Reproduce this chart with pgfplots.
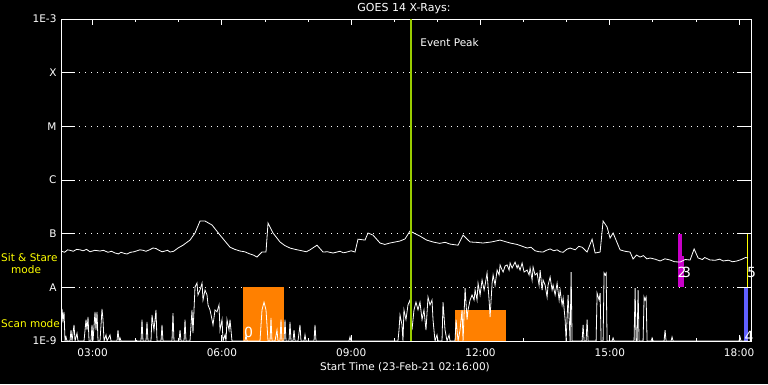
\documentclass[border=0pt]{standalone}
\usepackage{pgfplots}
\pgfplotsset{compat=1.18}
\usepackage{fontspec}
\setmainfont{DejaVu Sans}
\definecolor{evt}{RGB}{153,204,0}
\definecolor{scanorange}{RGB}{255,128,0}
\definecolor{ssmag}{RGB}{200,0,200}
\definecolor{scanblue}{RGB}{96,96,255}
\definecolor{lblyellow}{RGB}{255,255,0}
\begin{document}
\begin{tikzpicture}[font=\fontsize{10.5}{12}\selectfont]
\fill[black] (0pt,0pt) rectangle (768pt,384pt);
\begin{axis}[
  at={(61pt,43pt)}, anchor=south west,
  width=690pt, height=322pt, scale only axis,
  xmin=2.2667, xmax=18.276,
  ymode=log, ymin=1e-9, ymax=1e-3,
  clip mode=individual,
  axis background/.style={fill=black},
  axis line style={white, line width=1pt},
  xtick={3,6,9,12,15,18},
  xticklabels={03:00,06:00,09:00,12:00,15:00,18:00},
  minor xtick={4,5,7,8,10,11,13,14,16,17},
  tick align=inside,
  xtick pos=both,
  major tick length=6pt, minor tick length=3pt,
  xtick style={white, line width=1pt},
  ytick={1e-9,1e-8,1e-7,1e-6,1e-5,1e-4,1e-3},
  yticklabels={1E-9,A,B,C,M,X,1E-3},
  ytick style={draw=none},
  ymajorgrids,
  grid style={white, line width=1pt, dash pattern=on 1pt off 5pt},
  ticklabel style={white, font=\fontsize{10.5}{12}\selectfont},
  xticklabel style={yshift=-4pt},
  yticklabel style={xshift=-1pt},
  /pgf/number format/assume math mode=true,
  no markers,
]
% scan-mode / sit-and-stare observation boxes
\addplot[fill=scanorange, draw=none] coordinates {(6.489,1e-9) (6.489,1e-8) (7.441,1e-8) (7.441,1e-9)} -- cycle;
\addplot[fill=scanorange, draw=none] coordinates {(11.409,1e-9) (11.409,3.8e-9) (12.591,3.8e-9) (12.591,1e-9)} -- cycle;
\addplot[fill=ssmag, draw=none] coordinates {(16.581,1e-8) (16.581,3.84e-8) (16.721,3.84e-8) (16.721,1e-8)} -- cycle;
\addplot[fill=ssmag, draw=none] coordinates {(16.581,3.84e-8) (16.581,1e-7) (16.67,1e-7) (16.67,3.84e-8)} -- cycle;
\addplot[fill=scanblue, draw=none] coordinates {(18.113,1e-9) (18.113,1e-8) (18.206,1e-8) (18.206,1e-9)} -- cycle;
\addplot[lblyellow, line width=1pt] coordinates {(18.199,1e-8) (18.199,1e-7)};
% sit & stare light curve
\addplot[white, line width=0.8pt] coordinates {
(2.267,4.75e-8) (2.35,4.5e-8) (2.42,5.0e-8) (2.476,4.9e-8) (2.55,4.7e-8) (2.63,5.1e-8)
(2.708,5.0e-8) (2.78,4.8e-8) (2.86,5.1e-8) (2.940,4.6e-8) (3.05,4.9e-8) (3.172,4.75e-8)
(3.25,4.9e-8) (3.357,4.5e-8) (3.44,4.7e-8) (3.520,4.36e-8) (3.60,4.2e-8) (3.659,4.5e-8)
(3.73,4.3e-8) (3.798,4.18e-8) (3.88,4.5e-8) (3.961,4.6e-8) (4.03,4.8e-8) (4.100,5.0e-8)
(4.17,4.9e-8) (4.239,4.7e-8) (4.32,5.0e-8) (4.401,5.4e-8) (4.47,5.3e-8) (4.541,4.9e-8)
(4.61,4.6e-8) (4.680,4.75e-8) (4.74,4.9e-8) (4.796,4.55e-8) (4.88,4.7e-8) (4.981,5.4e-8)
(5.097,6.1e-8) (5.260,7.6e-8) (5.376,1.03e-7)
(5.492,1.72e-7) (5.608,1.72e-7) (5.771,1.45e-7) (5.956,9.4e-8) (6.188,5.6e-8)
(6.30,5.1e-8) (6.420,4.75e-8) (6.53,4.6e-8) (6.652,4.18e-8) (6.73,4.0e-8) (6.814,3.67e-8) (6.930,4.55e-8) (7.023,4.55e-8)
(7.070,1.58e-7) (7.186,1.03e-7) (7.348,7.0e-8) (7.46,6.0e-8) (7.580,5.4e-8) (7.70,5.1e-8) (7.882,4.75e-8)
(7.96,4.6e-8) (8.044,5.0e-8) (8.206,6.1e-8) (8.346,4.55e-8) (8.45,4.6e-8) (8.578,4.36e-8) (8.740,4.7e-8)
(8.82,4.4e-8) (8.903,4.55e-8) (9.0,4.8e-8) (9.088,4.55e-8) (9.158,7.9e-8) (9.320,7.6e-8) (9.390,1.03e-7)
(9.506,9.4e-8) (9.668,6.7e-8) (9.78,6.3e-8) (9.900,6.7e-8) (10.02,7.0e-8) (10.132,7.3e-8) (10.25,8.0e-8) (10.364,1.12e-7)
(10.596,9.0e-8) (10.75,7.6e-8) (10.898,7.0e-8) (11.05,6.6e-8) (11.18,6.9e-8) (11.293,6.4e-8) (11.479,6.1e-8) (11.595,9.4e-8)
(11.758,7.0e-8) (11.90,6.9e-8) (12.059,6.7e-8) (12.25,7.0e-8) (12.454,7.6e-8) (12.686,6.7e-8) (12.85,6.3e-8) (12.95,5.9e-8) (13.081,5.4e-8)
(13.17,5.6e-8) (13.266,4.8e-8) (13.36,4.6e-8) (13.452,4.55e-8) (13.53,4.9e-8) (13.615,5.2e-8) (13.7,4.8e-8) (13.777,5.0e-8) (13.85,4.6e-8) (13.917,4.5e-8)
(14.0,5.1e-8) (14.079,5.4e-8) (14.2,5.0e-8) (14.28,5.8e-8) (14.357,5.6e-8) (14.473,4.55e-8) (14.589,7.9e-8) (14.659,4.36e-8)
(14.775,4.55e-8) (14.844,1.72e-7) (14.937,1.33e-7) (15.006,8.3e-8) (15.076,1.03e-7)
(15.238,5.0e-8) (15.35,4.7e-8) (15.470,4.55e-8) (15.540,3.37e-8) (15.62,4.0e-8) (15.702,3.67e-8) (15.78,3.9e-8) (15.86,3.4e-8) (15.935,3.52e-8)
(16.05,3.35e-8) (16.167,3.1e-8) (16.28,3.4e-8) (16.399,3.23e-8) (16.5,3.0e-8) (16.631,2.96e-8) (16.75,3.3e-8) (16.863,3.23e-8) (16.956,5.2e-8)
(17.049,3.52e-8) (17.15,3.3e-8) (17.2,3.6e-8) (17.327,3.23e-8) (17.45,3.2e-8) (17.55,3.35e-8) (17.629,3.1e-8) (17.75,3.2e-8) (17.85,3.0e-8) (17.951,3.1e-8)
(18.05,3.3e-8) (18.15,3.6e-8) (18.206,3.52e-8)
};
% scan mode light curve
\addplot[white, line width=0.8pt] coordinates {
(2.267,1e-9) (2.290,3.95e-9) (2.313,2.5e-9) (2.337,3.5e-9) (2.360,1e-9) (2.383,1.19e-9) (2.406,1e-9)
(2.476,1e-9) (2.499,1.6e-9) (2.522,1e-9) (2.569,2.0e-9) (2.592,1e-9) (2.638,1.4e-9) (2.661,1e-9)
(2.801,1e-9) (2.847,2.5e-9) (2.870,1.6e-9) (2.894,2.8e-9) (2.917,1e-9) (2.963,1e-9) (2.986,2.0e-9) (3.009,1e-9)
(3.056,3.5e-9) (3.079,1.6e-9) (3.102,3.5e-9) (3.125,1e-9) (3.172,1e-9) (3.218,3.95e-9) (3.241,2.5e-9) (3.265,1e-9)
(3.311,1.3e-9) (3.334,1e-9) (3.404,1.3e-9) (3.427,1e-9) (3.566,1e-9) (3.589,1.6e-9) (3.613,1e-9) (3.636,1.14e-9) (3.659,1e-9)
(3.984,1e-9) (4.007,1.04e-9) (4.030,1e-9) (4.123,1e-9) (4.146,2.5e-9) (4.169,1e-9) (4.239,1e-9) (4.262,2.26e-9) (4.285,1e-9)
(4.355,1e-9) (4.378,3.05e-9) (4.424,1.6e-9) (4.471,3.8e-9) (4.494,1e-9) (4.587,1e-9) (4.610,2.0e-9) (4.633,1e-9)
(4.842,1e-9) (4.865,3.3e-9) (4.888,1e-9) (5.005,1e-9) (5.028,1.6e-9) (5.051,1e-9) (5.121,1e-9) (5.144,2.5e-9) (5.167,1e-9)
(5.260,1e-9) (5.306,3.8e-9) (5.329,1.4e-9) (5.376,1.01e-8) (5.422,1.2e-8) (5.445,7.2e-9) (5.492,8.9e-9) (5.539,1.2e-8)
(5.562,5.8e-9) (5.608,8.9e-9) (5.655,7.2e-9) (5.678,4.7e-9) (5.724,3.8e-9) (5.771,2.5e-9) (5.794,2.0e-9) (5.840,3.8e-9)
(5.887,3.5e-9) (5.933,4.7e-9) (5.956,1.6e-9) (6.003,2.5e-9) (6.026,1e-9) (6.072,1.3e-9) (6.095,1e-9) (6.118,2.5e-9)
(6.165,1.6e-9) (6.188,2.5e-9) (6.234,1e-9) (6.536,1e-9) (6.559,1.3e-9) (6.582,1e-9)
(6.884,1e-9) (6.930,3.8e-9) (6.977,5.3e-9) (7.023,3.8e-9) (7.070,1e-9) (7.116,1e-9) (7.139,2.7e-9) (7.162,1e-9)
(7.232,1e-9) (7.278,1.6e-9) (7.301,1e-9) (7.348,1e-9) (7.371,2.5e-9) (7.394,1e-9) (7.441,1e-9) (7.464,2.5e-9) (7.487,1e-9)
(7.557,1e-9) (7.580,2.26e-9) (7.603,1e-9) (7.650,1e-9) (7.673,1.6e-9) (7.696,1e-9) (7.766,1e-9) (7.812,2.0e-9) (7.835,1e-9)
(7.905,1e-9) (7.928,1.3e-9) (7.951,1e-9) (8.137,1e-9) (8.160,2.0e-9) (8.183,1e-9) (8.949,1e-9) (8.972,1.19e-9) (8.995,1e-9)
(10.085,1e-9) (10.109,1.6e-9) (10.132,3.05e-9) (10.178,2.0e-9) (10.201,1e-9) (10.224,3.8e-9) (10.271,2.5e-9) (10.317,4.7e-9)
(10.364,5.8e-9) (10.410,1.6e-9) (10.457,3.8e-9) (10.503,5.3e-9) (10.550,3.8e-9) (10.596,5.3e-9) (10.643,2.5e-9) (10.689,3.8e-9)
(10.735,1.6e-9) (10.782,6.6e-9) (10.828,4.7e-9) (10.875,5.8e-9) (10.898,2.5e-9) (10.944,1e-9) (10.991,1.3e-9) (11.014,1e-9)
(11.107,1e-9) (11.130,5.3e-9) (11.177,1.6e-9) (11.223,1e-9) (11.270,1.3e-9) (11.293,1e-9) (11.409,1e-9) (11.432,2.5e-9)
(11.479,1e-9) (11.525,1.6e-9) (11.572,3.8e-9) (11.595,1e-9) (11.642,9.7e-9) (11.688,2.5e-9) (11.711,3.8e-9) (11.758,5.8e-9)
(11.804,7.2e-9) (11.851,5.8e-9) (11.874,8.9e-9) (11.920,5.8e-9) (11.943,1.2e-8) (11.990,7.2e-9) (12.036,1.37e-8) (12.083,8.9e-9)
(12.106,1.1e-8) (12.152,1.85e-8) (12.199,5.8e-9) (12.222,2.8e-9) (12.269,1.2e-8) (12.292,1.7e-8) (12.338,1.1e-8) (12.385,2.1e-8)
(12.431,1.7e-8) (12.454,2.61e-8) (12.501,2.1e-8) (12.524,1.93e-8) (12.570,2.5e-8) (12.617,2.61e-8) (12.663,2.1e-8) (12.686,2.84e-8)
(12.733,2.29e-8) (12.802,2.96e-8) (12.849,2.29e-8) (12.872,2.61e-8) (12.918,2.1e-8) (12.965,2.84e-8) (13.011,1.93e-8) (13.081,2.1e-8)
(13.127,1.7e-8) (13.150,2.29e-8) (13.197,1.37e-8) (13.220,2.39e-8) (13.266,1.7e-8) (13.313,1.85e-8) (13.359,1.1e-8) (13.383,2.1e-8)
(13.429,8.9e-9) (13.452,1.37e-8) (13.499,1.1e-8) (13.545,6.6e-9) (13.568,1.1e-8) (13.615,1.56e-8) (13.661,8.9e-9) (13.684,1.1e-8)
(13.731,7.2e-9) (13.777,1.2e-8) (13.824,5.8e-9) (13.847,8.9e-9) (13.893,4.7e-9) (13.917,6.3e-9) (13.963,2.5e-9) (13.986,1e-9)
(14.032,7.2e-9) (14.079,1e-9) (14.102,1.93e-8) (14.125,1e-9) (14.357,1e-9) (14.380,2.0e-9) (14.403,1e-9) (14.450,1e-9)
(14.473,2.5e-9) (14.496,1e-9) (14.682,1e-9) (14.705,7.8e-9) (14.751,5.8e-9) (14.775,7.8e-9) (14.798,1e-9) (14.844,1e-9)
(14.867,1.85e-8) (14.891,1.7e-8) (14.914,1.85e-8) (14.937,1e-9) (15.053,1e-9) (15.076,1.14e-9) (15.099,1e-9)
(15.563,1e-9) (15.587,9.7e-9) (15.610,1e-9) (15.633,1e-9) (15.656,8.9e-9) (15.679,1e-9) (15.772,1e-9) (15.795,6.6e-9)
(15.818,5.8e-9) (15.842,6.6e-9) (15.865,1e-9) (15.958,1e-9) (15.981,1.14e-9) (16.004,1e-9) (16.259,1e-9) (16.282,1.6e-9)
(16.305,1e-9) (16.421,1e-9) (16.444,1.19e-9) (16.467,1e-9) (17.998,1e-9) (18.021,1.19e-9) (18.044,1e-9) (18.206,1e-9)
};
% event peak
\addplot[evt, line width=2pt] coordinates {(10.38,1e-9) (10.38,1e-3)};
% y ticks (solid stubs at both sides)
\pgfplotsinvokeforeach{1e-8,1e-7,1e-6,1e-5,1e-4}{
  \draw[white, line width=1pt] (axis cs:2.2667,#1) -- ++(14pt,0pt);
  \draw[white, line width=1pt] (axis cs:18.276,#1) -- ++(-14pt,0pt);
}
\node[white, anchor=west, inner sep=0pt] at (axis cs:10.60,3.56e-4) {Event Peak};
\node[white, font=\fontsize{14}{14}\selectfont] at (axis cs:6.617,1.44e-9) {0};
\node[white, font=\fontsize{14}{14}\selectfont] at (axis cs:16.675,1.89e-8) {2};
\node[white, font=\fontsize{14}{14}\selectfont] at (axis cs:16.78,1.89e-8) {3};
\node[white, font=\fontsize{14}{14}\selectfont] at (axis cs:18.287,1.89e-8) {5};
\node[white, font=\fontsize{14}{14}\selectfont] at (axis cs:18.23,1.24e-9) {4};
\end{axis}
\node[white, font=\fontsize{11}{12}\selectfont] at (404pt,375pt) {GOES 14 X-Rays:};
\node[white] at (405pt,17pt) {Start Time (23-Feb-21 02:16:00)};
\node[lblyellow, anchor=west, inner sep=0pt] at (1pt,126pt) {Sit \& Stare};
\node[lblyellow, anchor=west, inner sep=0pt] at (11pt,114pt) {mode};
\node[lblyellow, anchor=west, inner sep=0pt] at (1pt,60pt) {Scan mode};
\end{tikzpicture}
\end{document}
